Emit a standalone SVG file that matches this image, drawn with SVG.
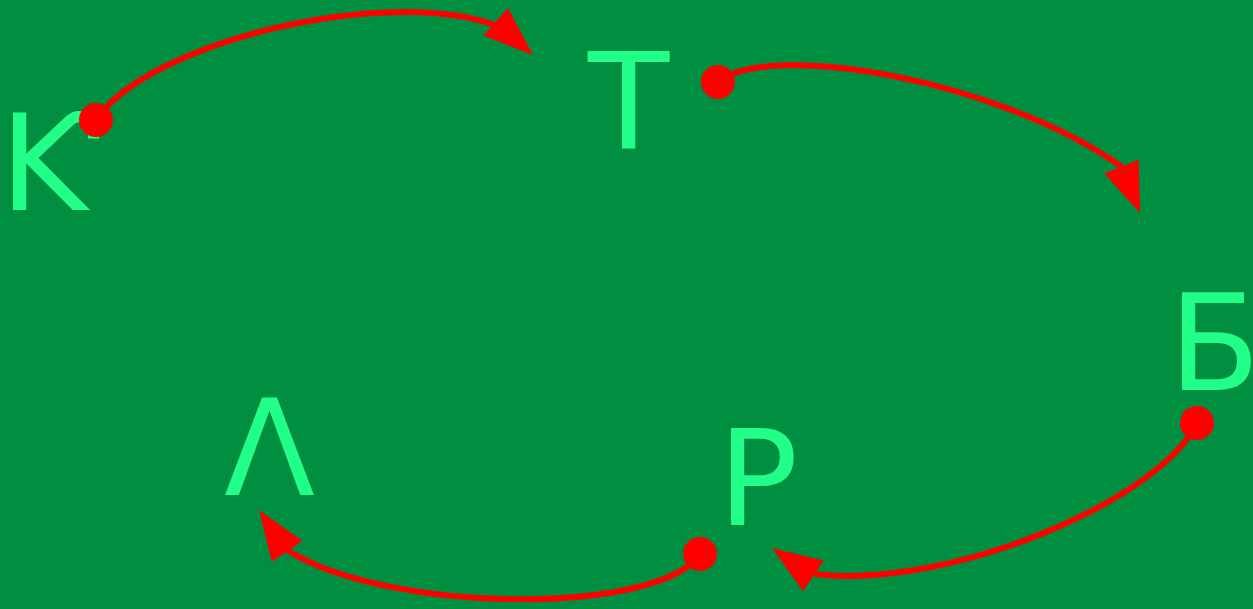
<svg xmlns="http://www.w3.org/2000/svg" xmlns:xlink="http://www.w3.org/1999/xlink" width="1253" height="609" viewBox="0 0 1253 609">
<style>
.lbl{font-family:"DejaVu Sans","Noto Sans",sans-serif;font-size:133px;fill:#22FF88}
.edge{fill:none;stroke:#FF0000;stroke-width:6}
.dot{fill:#FF0000}
.head{fill:#FF0000}
</style>
<defs>
<path id="ah" d="M0,0 L-50,-18.5 L-50,18.5 Z"/>
</defs>
<rect x="0" y="0" width="1253" height="609" fill="#008F40"/>
<g id="node-K"><text class="lbl" x="0" y="210">Ƙ</text></g>
<g id="node-T"><text class="lbl" x="588" y="149">Т</text></g>
<g id="node-B"><text class="lbl" x="1169" y="390">Б</text></g>
<g id="node-R"><text class="lbl" x="718" y="525">Р</text></g>
<g id="node-L"><text class="lbl" x="224" y="495">Λ</text></g>
<g id="connectors">
<path class="edge" d="M96,120 C150,40 390,-15 497,26"/>
<use class="head" xlink:href="#ah" transform="translate(533,55) rotate(41.8)"/>
<circle class="dot" cx="96" cy="120" r="17"/>
<path class="edge" d="M718,82 C770,40 1000,80 1122,167"/>
<use class="head" xlink:href="#ah" transform="translate(1140,213) rotate(68.3)"/>
<circle class="dot" cx="718" cy="82" r="17"/>
<path class="edge" d="M1197,423 C1160,500 950,590 815,574"/>
<use class="head" xlink:href="#ah" transform="translate(772,548) rotate(214)"/>
<circle class="dot" cx="1197" cy="423" r="17"/>
<path class="edge" d="M700,554 C660,615 390,615 287,550"/>
<use class="head" xlink:href="#ah" transform="translate(259,510) rotate(235.8)"/>
<circle class="dot" cx="700" cy="554" r="17"/>
</g>
</svg>
